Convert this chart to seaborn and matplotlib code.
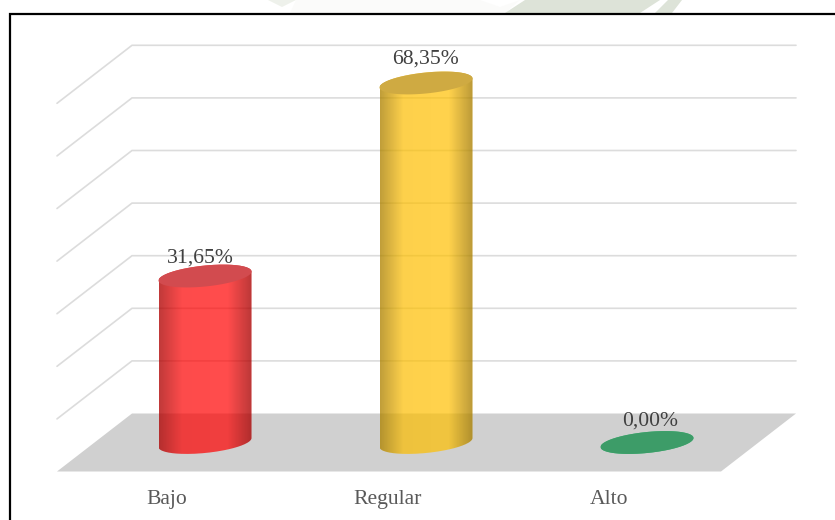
import numpy as np
import pandas as pd
import matplotlib
matplotlib.use("Agg")
import matplotlib.pyplot as plt
from matplotlib.path import Path
from matplotlib.patches import PathPatch, Polygon
from matplotlib.transforms import ScaledTranslation
import seaborn as sns

categories = ["Bajo", "Regular", "Alto"]
values = [31.65, 68.35, 0.00]
value_labels = ["31,65%", "68,35%", "0,00%"]
gridlines = [0, 10, 20, 30, 40, 50, 60, 70]
bar_colors = ["#FF0000", "#FFC000", "#00B050"]
cap_colors = ["#D24B4F", "#CFAA42", "#3D9C68"]

W, H = 835, 520
AX_L, AX_R, AX_T, AX_B = 57, 796, 45, 471
PX_X = 221.0       # pixels per category step
PX_Y = 5.26        # pixels per percentage point
X0_PX, Y0_PX = 205, 442.5
DEPTH_X, DEPTH_Y = 75, 29
A, B, SHEAR = 46.5, 10.5, 4.5
LABEL_NUDGE = [(-5, 18), (-0.5, 24), (3, 21)]

sns.set_theme(style="white")
plt.rcParams["font.family"] = ["Liberation Serif", "DejaVu Serif"]

fig = plt.figure(figsize=(W / 100, H / 100), dpi=100, facecolor="white")
ax = fig.add_axes([AX_L / W, 1 - AX_B / H, (AX_R - AX_L) / W, (AX_B - AX_T) / H])
ax.patch.set_alpha(0)

xlim = ((AX_L - X0_PX) / PX_X, (AX_R - X0_PX) / PX_X)
ylim = ((Y0_PX - AX_B) / PX_Y, (Y0_PX - AX_T) / PX_Y)

df = pd.DataFrame({"nivel": categories, "porcentaje": values})
sns.barplot(data=df, x="nivel", y="porcentaje", hue="nivel", palette=bar_colors,
            hue_order=categories, legend=False, width=2 * A / PX_X, saturation=1,
            alpha=0.7, linewidth=0, ax=ax, zorder=3)

# back wall and floor, in data units with the depth offset expressed in pixels
dx_data = DEPTH_X / PX_X
dy_data = DEPTH_Y / PX_Y
back_left = xlim[0] + dx_data
back_right = xlim[1]
floor_right = xlim[1] - dx_data
ax.add_patch(Polygon([(back_left, dy_data), (back_right, dy_data),
                      (floor_right, -dy_data), (xlim[0], -dy_data)],
                     closed=True, facecolor="#D0D0D0", edgecolor="none", zorder=1,
                     clip_on=False))
for g in gridlines[1:]:
    y = g + dy_data
    ax.plot([xlim[0], back_left, back_right], [y - 2 * dy_data, y, y],
            color="#DCDCDC", lw=1.2, zorder=2, clip_on=False, solid_joinstyle="miter")


def ellipse(cx, v, t):
    px = A * np.cos(t)
    py = B * np.sin(t) + SHEAR * np.cos(t)
    return np.column_stack([cx + px / PX_X, v + py / PX_Y])


shade = np.zeros((1, 256, 4))
u = np.linspace(0, 1, 256)
shade[0, :, 3] = np.interp(u, [0, 0.25, 0.74, 1], [0.25, 0.01, 0, 0.27])

for i, (bar, v) in enumerate(zip(ax.patches, values)):
    top = ellipse(i, v, np.linspace(np.pi, 0, 80))
    bottom = ellipse(i, 0, np.linspace(0, -np.pi, 80))
    sil = np.vstack([top, bottom])
    clip = PathPatch(Path(np.vstack([sil, sil[:1]])), transform=ax.transData)
    margin = 5
    bar.set_y(-margin)
    bar.set_height(v + 2 * margin)
    bar.set_clip_path(clip)
    if v > 0:
        im = ax.imshow(shade, extent=(i - A / PX_X, i + A / PX_X, -margin, v + margin),
                       aspect="auto", zorder=4, interpolation="bilinear")
        im.set_clip_path(clip)
    cap = ellipse(i, v, np.linspace(0, 2 * np.pi, 160))
    ax.add_patch(Polygon(cap, closed=True, facecolor=cap_colors[i], edgecolor="none", zorder=5))
    nx, ny = LABEL_NUDGE[i]
    ax.text(i + nx / PX_X, v + ny / PX_Y, value_labels[i], ha="center", va="center",
            fontsize=15.6, color="#404040", zorder=6)

ax.set_xlim(*xlim)
ax.set_ylim(*ylim)
ax.set_xlabel("")
ax.set_ylabel("")
ax.set_yticks([])
ax.set_xticks(range(len(categories)))
ax.set_xticklabels(categories, fontsize=15.6, color="#595959")
ax.tick_params(axis="x", length=0, pad=14)
offset = ScaledTranslation(-38 / 100, 0, fig.dpi_scale_trans)
for lab in ax.get_xticklabels():
    lab.set_transform(lab.get_transform() + offset)
for s in ax.spines.values():
    s.set_visible(False)


def fig_px(points):
    return [(x / W, 1 - y / H) for x, y in points]


# faint watermark showing above the picture's frame
for pts, col in [
    ([(268, 0), (282, 7), (296, 0)], "#EEF1EB"),
    ([(296, 0), (480, 0), (500, 7), (520, 0), (505, 13), (290, 13)], "#FBFBFA"),
    ([(525, 0), (660, 0), (640, 13), (505, 13)], "#DDE3D8"),
    ([(668, 0), (682, 0), (672, 13), (655, 13)], "#DDE3D8"),
]:
    fig.add_artist(Polygon(fig_px(pts), closed=True, facecolor=col, edgecolor="none",
                           transform=fig.transFigure))

# outer frame of the picture: left and top rules only
fig.add_artist(plt.Line2D([9.5 / W, 9.5 / W, 1], [0, 1 - 13.5 / H, 1 - 13.5 / H],
                          color="black", lw=1.6, solid_joinstyle="miter"))

fig.savefig("out.png", dpi=100)
